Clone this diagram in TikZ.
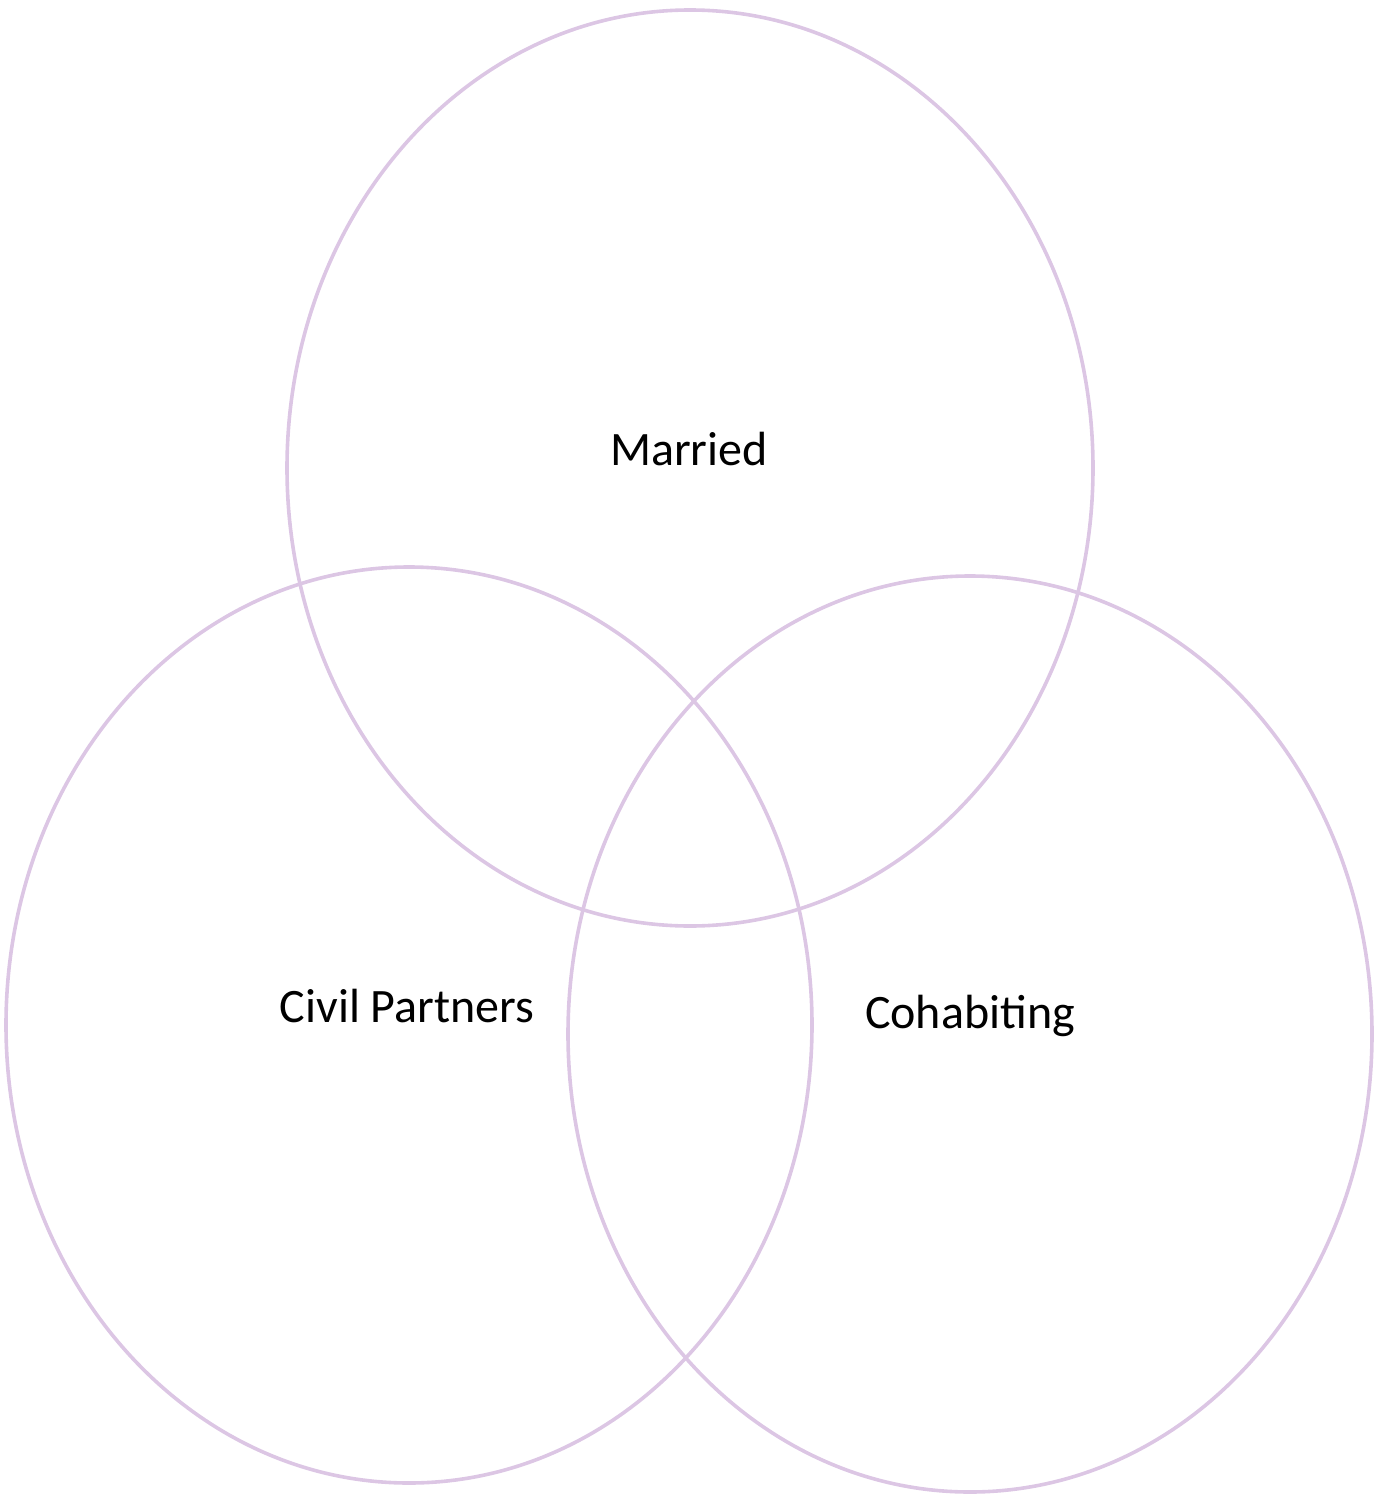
\documentclass[tikz,border=0pt]{standalone}
\usepackage{fontspec}
\setmainfont{Carlito}
\definecolor{lilac}{RGB}{220,198,228}
\begin{document}
\begin{tikzpicture}[x=1pt,y=-1pt,
  ring/.style={draw=lilac,line width=3.6pt},
  lbl/.style={font=\fontsize{48}{52}\selectfont,text=black,inner sep=0pt}]
\useasboundingbox (0,0) rectangle (1375,1496);
% three overlapping sets
\draw[ring] (690,468) ellipse [x radius=403,y radius=458];
\draw[ring] (409,1025) ellipse [x radius=403,y radius=458];
\draw[ring] (970,1034) ellipse [x radius=402,y radius=458];
% set labels
\node[lbl] (married) at (689,449) {Married};
\node[lbl] (civil) at (407,1006) {Civil Partners};
\node[lbl] (cohab) at (970,1016) {Cohabiting};
\end{tikzpicture}
\end{document}
